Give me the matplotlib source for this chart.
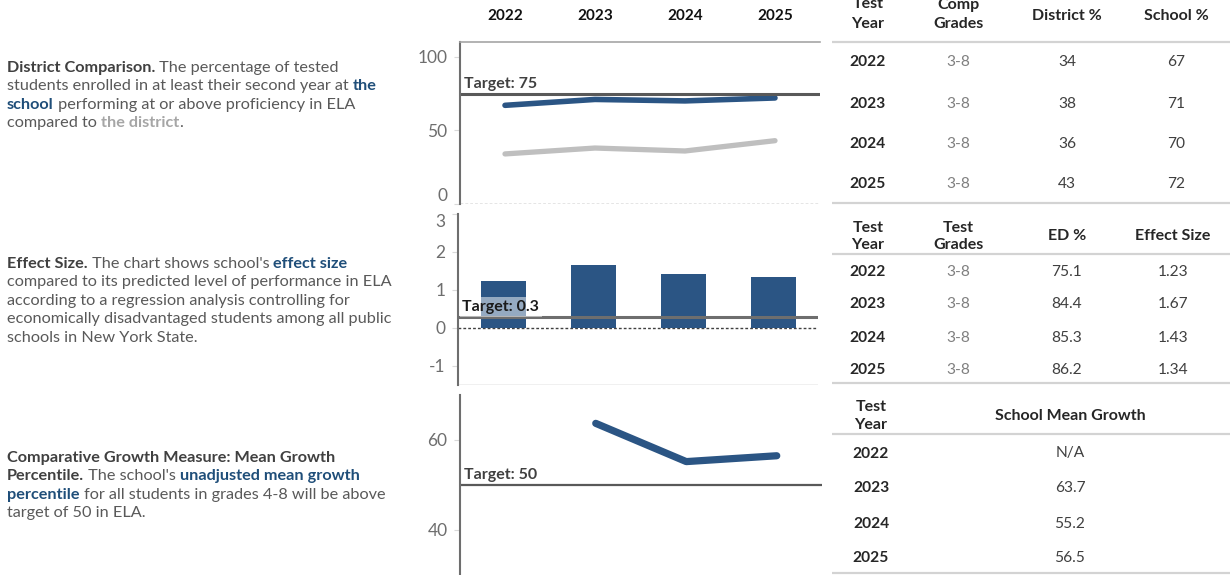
import numpy as np
import matplotlib.pyplot as plt

plt.rcParams['font.family'] = ['Lato', 'DejaVu Sans']
plt.rcParams['axes.unicode_minus'] = False

# data
years = ['2022', '2023', '2024', '2025']
comp_grades = ['3-8', '3-8', '3-8', '3-8']
district_pct = [34, 38, 36, 43]
school_pct = [67, 71, 70, 72]
target_prof = 75

test_grades = ['3-8', '3-8', '3-8', '3-8']
ed_pct = ['75.1', '84.4', '85.3', '86.2']
effect_size = [1.23, 1.67, 1.43, 1.34]
target_effect = 0.3

mean_growth = [np.nan, 63.7, 55.2, 56.5]
mean_growth_txt = ['N/A', '63.7', '55.2', '56.5']
target_growth = 50

BLUE = '#2B5584'
DBLUE = '#1F4E79'
LGRAY = '#BFBFBF'
TXT = '#595959'
DARK = '#262626'

W, H = 1230, 575
fig = plt.figure(figsize=(W / 100, H / 100), dpi=100)


def rect(x0, y0, x1, y1):
    return [x0 / W, 1 - y1 / H, (x1 - x0) / W, (y1 - y0) / H]


bg = fig.add_axes([0, 0, 1, 1], zorder=0)
bg.set_xlim(0, W)
bg.set_ylim(H, 0)
bg.axis('off')


def rich_line(x, y, parts, size=11.7):
    prev = None
    for txt, bold, color in parts:
        w = 'bold' if bold else 'normal'
        if prev is None:
            prev = bg.text(x, y, txt, fontsize=size, fontweight=w, color=color,
                           va='baseline', ha='left')
        else:
            prev = bg.annotate(txt, xy=(1, 0), xycoords=prev, va='bottom', ha='left',
                               fontsize=size, fontweight=w, color=color)


# left descriptions
p1 = [
    [('District Comparison.', True, '#404040'), (' The percentage of tested', False, TXT)],
    [('students enrolled in at least their second year at ', False, TXT), ('the', True, DBLUE)],
    [('school', True, DBLUE), (' performing at or above proficiency in ELA', False, TXT)],
    [('compared to ', False, TXT), ('the district', True, '#A6A6A6'), ('.', False, TXT)],
]
p2 = [
    [('Effect Size.', True, '#404040'), (" The chart shows school's ", False, TXT), ('effect size', True, DBLUE)],
    [('compared to its predicted level of performance in ELA', False, TXT)],
    [('according to a regression analysis controlling for', False, TXT)],
    [('economically disadvantaged students among all public', False, TXT)],
    [('schools in New York State.', False, TXT)],
]
p3 = [
    [('Comparative Growth Measure: Mean Growth', True, '#404040')],
    [('Percentile.', True, '#404040'), (" The school's ", False, TXT), ('unadjusted mean growth', True, DBLUE)],
    [('percentile', True, DBLUE), (' for all students in grades 4-8 will be above', False, TXT)],
    [('target of 50 in ELA.', False, TXT)],
]
for para, y0 in [(p1, 72), (p2, 268), (p3, 462)]:
    for i, ln in enumerate(para):
        rich_line(7, y0 + i * 18.4, ln)


def style_axis(ax):
    for s in ['top', 'right', 'bottom']:
        ax.spines[s].set_visible(False)
    ax.spines['left'].set_color('#6E6E6E')
    ax.spines['left'].set_linewidth(1.5)
    ax.tick_params(axis='y', length=4, color='#D9D9D9', labelcolor='#6E6E6E',
                   labelsize=12.5, pad=5)
    ax.set_xlim(-0.5, 3.5)
    ax.patch.set_alpha(0)


def target_label(ax, val, txt, boxed=False):
    kw = dict(transform=ax.get_yaxis_transform(), va='bottom', ha='left',
              fontsize=11.5, fontweight='bold', color='#404040')
    if boxed:
        kw['bbox'] = dict(facecolor='white', alpha=0.5, edgecolor='none', pad=2)
        kw['color'] = '#1A1A1A'
    ax.text(0.012, val, txt, **kw)


x = np.arange(len(years))

# panel 1 - district comparison
ax1 = fig.add_axes(rect(460, 42, 820, 204), zorder=1)
style_axis(ax1)
ax1.spines['top'].set_visible(True)
ax1.spines['top'].set_color('#A6A6A6')
ax1.spines['top'].set_linewidth(1.2)
ax1.set_ylim(0, 110)
ax1.set_yticks([0, 50, 100])
ax1.get_yticklabels()[0].set_verticalalignment('bottom')
ax1.plot(x, district_pct, color=LGRAY, lw=3.8, solid_capstyle='round')
ax1.plot(x, school_pct, color=BLUE, lw=4.0, solid_capstyle='round')
ax1.axhline(target_prof, color='#595959', lw=2.2)
ax1.axhline(0, color='#7F7F7F', lw=1, ls=(0, (2, 1.5)))
target_label(ax1, target_prof + 1.5, 'Target: 75')
ax1.xaxis.tick_top()
ax1.set_xticks(x, years)
ax1.tick_params(axis='x', length=0, pad=14, labelsize=11, labelcolor='#111111')
for t in ax1.get_xticklabels():
    t.set_fontweight('bold')

# panel 2 - effect size
ax2 = fig.add_axes(rect(458, 214, 818, 385), zorder=1)
style_axis(ax2)
ax2.set_ylim(-1.5, 3)
ax2.set_yticks([-1, 0, 1, 2, 3])
ax2.get_yticklabels()[-1].set_verticalalignment('top')
ax2.bar(x, effect_size, width=0.5, color=BLUE, zorder=2)
ax2.axhline(target_effect, color='#6E6E6E', lw=2.2, zorder=3)
ax2.axhline(0, color='#404040', lw=1, ls=(0, (2, 1.5)), zorder=1)
ax2.axhline(-1.5, color='#EDEDED', lw=1.2)
target_label(ax2, target_effect + 0.07, 'Target: 0.3', boxed=True)
ax2.set_xticks([])

# panel 3 - mean growth
ax3 = fig.add_axes(rect(460, 395, 822, 575), zorder=1)
style_axis(ax3)
ax3.set_ylim(30, 70)
ax3.set_yticks([40, 60])
ax3.plot(x, mean_growth, color=BLUE, lw=5.2, solid_capstyle='round')
ax3.axhline(target_growth, color='#595959', lw=1.6)
target_label(ax3, target_growth + 0.7, 'Target: 50')
ax3.set_xticks([])


# tables
def hline(y, x0=832, x1=1230):
    bg.plot([x0, x1], [y, y], color='#D3D3D3', lw=1.6, solid_capstyle='butt')


def hdr(xc, yc, txt, ls=1.3):
    bg.text(xc, yc + 1.5, txt, ha='center', va='center', fontsize=11.5, fontweight='bold',
            color=DARK, linespacing=ls)


def rows(cols, ys):
    for xc, vals, color, bold in cols:
        for v, yy in zip(vals, ys):
            bg.text(xc, yy + 1.5, v, ha='center', va='center', fontsize=11.2,
                    fontweight='bold' if bold else 'normal', color=color)


# table 1
hdr(868, 12.5, 'Test\nYear', 1.55)
hdr(958, 13, 'Comp\nGrades', 1.5)
hdr(1067, 14, 'District %')
hdr(1176, 14, 'School %')
hline(42)
rows([(868, years, DARK, True), (958, comp_grades, '#808080', False),
      (1067, [str(v) for v in district_pct], '#404040', False),
      (1176, [str(v) for v in school_pct], '#404040', False)],
     [61, 102, 143, 183])
hline(203)

# table 2
hdr(868, 235, 'Test\nYear', 1.3)
hdr(958, 235, 'Test\nGrades', 1.3)
hdr(1067, 235, 'ED %')
hdr(1173, 235, 'Effect Size')
hline(254)
rows([(868, years, DARK, True), (958, test_grades, '#808080', False),
      (1067, ed_pct, '#404040', False),
      (1173, ['%.2f' % v for v in effect_size], '#404040', False)],
     [271, 303, 336, 368])
hline(383)

# table 3
hdr(871, 414.5, 'Test\nYear', 1.35)
hdr(1070, 415, 'School Mean Growth')
hline(434)
rows([(871, years, DARK, True), (1070, mean_growth_txt, '#404040', False)],
     [452, 487, 522, 557])
hline(573)

fig.savefig('out.png', dpi=100)
